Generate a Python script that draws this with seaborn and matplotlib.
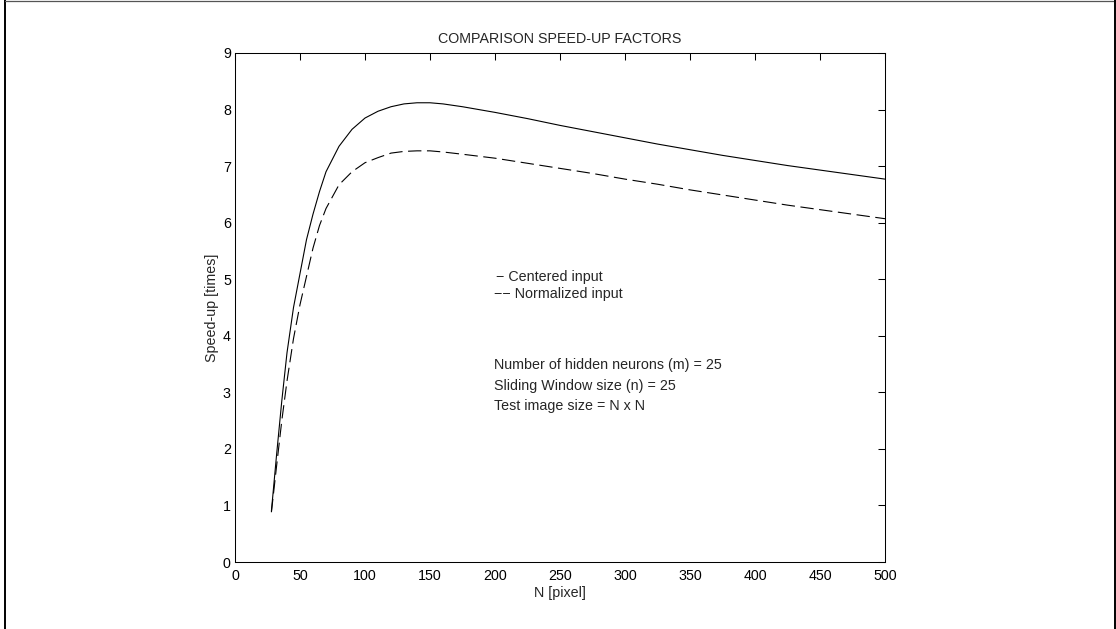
import matplotlib
matplotlib.use("Agg")
import matplotlib.pyplot as plt
from matplotlib.lines import Line2D
import seaborn as sns
import pandas as pd

# ---- data ----
n_centered = [28, 32, 36, 40, 45, 50, 55, 60, 65, 70, 80, 90, 100, 110, 120, 130, 140,
              150, 160, 175, 200, 225, 250, 275, 300, 325, 350, 375, 400, 425, 450, 475, 500]
speedup_centered = [0.9, 1.9, 2.85, 3.7, 4.5, 5.1, 5.7, 6.15, 6.55, 6.9, 7.35, 7.65, 7.85,
                    7.97, 8.05, 8.10, 8.12, 8.12, 8.10, 8.05, 7.95, 7.84, 7.72, 7.61, 7.50,
                    7.39, 7.29, 7.19, 7.10, 7.01, 6.93, 6.85, 6.77]
n_normalized = [28, 32, 36, 40, 45, 50, 55, 60, 65, 70, 80, 90, 100, 110, 120, 130, 140,
                150, 160, 175, 200, 225, 250, 275, 300, 325, 350, 375, 400, 425, 450, 475, 500]
speedup_normalized = [0.88, 1.7, 2.5, 3.2, 3.95, 4.55, 5.05, 5.55, 5.95, 6.25, 6.67, 6.9,
                      7.06, 7.15, 7.23, 7.26, 7.27, 7.27, 7.25, 7.21, 7.14, 7.05, 6.96, 6.87,
                      6.77, 6.68, 6.58, 6.49, 6.40, 6.31, 6.23, 6.15, 6.07]
x_ticks = [0, 50, 100, 150, 200, 250, 300, 350, 400, 450, 500]
y_ticks = [0, 1, 2, 3, 4, 5, 6, 7, 8, 9]
legend_texts = ["\u2212 Centered input", "\u2212\u2212 Normalized input"]
info_texts = ["Number of hidden neurons (m) = 25",
              "Sliding Window size (n) = 25",
              "Test image size = N x N"]

sns.set_style("white")
plt.rcParams["font.family"] = ["Liberation Sans", "DejaVu Sans"]
FS = 10.3
plt.rcParams["font.size"] = FS

df_c = pd.DataFrame({"N": n_centered, "S": speedup_centered})
df_n = pd.DataFrame({"N": n_normalized, "S": speedup_normalized})

W, H = 1116, 629
fig = plt.figure(figsize=(W / 100, H / 100), dpi=100, facecolor="white")
ax = fig.add_axes([235 / W, 1 - 562 / H, 650 / W, 509 / H])
ax.set_facecolor("white")

sns.lineplot(data=df_c, x="N", y="S", ax=ax, color="black", linewidth=0.8)
sns.lineplot(data=df_n, x="N", y="S", ax=ax, color="black", linewidth=0.8,
             linestyle=(0, (12, 5)))

ax.set_xlim(0, 500)
ax.set_ylim(0, 9)
ax.set_xticks(x_ticks)
ax.set_yticks(y_ticks)
ax.tick_params(direction="in", length=5, width=0.75, top=True, right=True,
               labelsize=FS, colors="black")
ax.tick_params(axis="x", pad=5)
ax.tick_params(axis="y", pad=3)
for s in ax.spines.values():
    s.set_visible(True)
    s.set_linewidth(0.75)
    s.set_color("black")

ax.set_title("COMPARISON SPEED-UP FACTORS", fontsize=FS, pad=7)
ax.set_xlabel("N [pixel]", fontsize=FS, labelpad=2)
ax.set_ylabel("Speed-up [times]", fontsize=FS, labelpad=3)

ax.text(201, 5.04, legend_texts[0], fontsize=FS, va="center", ha="left")
ax.text(199, 4.74, legend_texts[1], fontsize=FS, va="center", ha="left")
for txt, yv in zip(info_texts, [3.48, 3.11, 2.76]):
    ax.text(199, yv, txt, fontsize=FS, va="center", ha="left")

# figure frame
fig.add_artist(Line2D([5 / W, 5 / W], [0, 1], transform=fig.transFigure, color="black", lw=1.4))
fig.add_artist(Line2D([5 / W, 1], [1 - 0.5 / H, 1 - 0.5 / H], transform=fig.transFigure,
                      color="#555555", lw=0.9))
fig.add_artist(Line2D([1114.5 / W, 1114.5 / W], [0, 1], transform=fig.transFigure,
                      color="black", lw=1.4))

fig.savefig("out.png", dpi=100, facecolor="white")
